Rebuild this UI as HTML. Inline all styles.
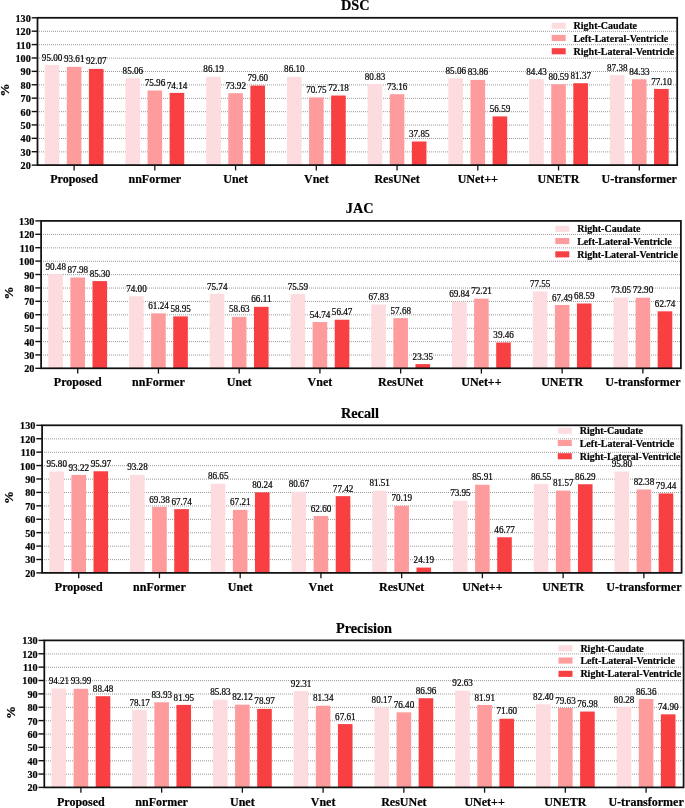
<!DOCTYPE html>
<html><head><meta charset="utf-8"><title>Segmentation metrics</title>
<style>
html,body{margin:0;padding:0;background:#fff;}
body{width:685px;height:808px;overflow:hidden;}
svg{display:block;}
text{font-family:"Liberation Serif",serif;stroke:#000;stroke-linejoin:round;}
text.b{font-weight:bold;}
</style></head>
<body>
<svg width="685" height="808" viewBox="0 0 685 808">
<defs>
<filter id="gs" x="-0.02" y="-0.02" width="1.04" height="1.04"><feOffset dx="0" dy="0"/></filter>

</defs>
<rect width="685" height="808" fill="#fff"/>
<line x1="39" y1="31.34" x2="676.20" y2="31.34" stroke="#999999" stroke-width="1" stroke-dasharray="1 1"/>
<line x1="39" y1="44.73" x2="676.20" y2="44.73" stroke="#999999" stroke-width="1" stroke-dasharray="1 1"/>
<line x1="39" y1="58.12" x2="676.20" y2="58.12" stroke="#999999" stroke-width="1" stroke-dasharray="1 1"/>
<line x1="39" y1="71.51" x2="676.20" y2="71.51" stroke="#999999" stroke-width="1" stroke-dasharray="1 1"/>
<line x1="39" y1="84.90" x2="676.20" y2="84.90" stroke="#999999" stroke-width="1" stroke-dasharray="1 1"/>
<line x1="39" y1="98.30" x2="676.20" y2="98.30" stroke="#999999" stroke-width="1" stroke-dasharray="1 1"/>
<line x1="39" y1="111.69" x2="676.20" y2="111.69" stroke="#999999" stroke-width="1" stroke-dasharray="1 1"/>
<line x1="39" y1="125.08" x2="676.20" y2="125.08" stroke="#999999" stroke-width="1" stroke-dasharray="1 1"/>
<line x1="39" y1="138.47" x2="676.20" y2="138.47" stroke="#999999" stroke-width="1" stroke-dasharray="1 1"/>
<line x1="39" y1="151.86" x2="676.20" y2="151.86" stroke="#999999" stroke-width="1" stroke-dasharray="1 1"/>
<rect x="44.70" y="64.97" width="14.6" height="100.13" fill="#fddcdf"/>
<rect x="66.80" y="66.83" width="14.6" height="98.27" fill="#fe9c9d"/>
<rect x="88.90" y="68.89" width="14.6" height="96.21" fill="#f83f42"/>
<line x1="74.10" y1="165.10" x2="74.10" y2="170.40" stroke="#111" stroke-width="1.3"/>
<rect x="125.44" y="78.28" width="14.6" height="86.82" fill="#fddcdf"/>
<rect x="147.54" y="90.46" width="14.6" height="74.64" fill="#fe9c9d"/>
<rect x="169.64" y="92.90" width="14.6" height="72.20" fill="#f83f42"/>
<line x1="154.84" y1="165.10" x2="154.84" y2="170.40" stroke="#111" stroke-width="1.3"/>
<rect x="206.18" y="76.77" width="14.6" height="88.33" fill="#fddcdf"/>
<rect x="228.28" y="93.20" width="14.6" height="71.90" fill="#fe9c9d"/>
<rect x="250.38" y="85.59" width="14.6" height="79.51" fill="#f83f42"/>
<line x1="235.58" y1="165.10" x2="235.58" y2="170.40" stroke="#111" stroke-width="1.3"/>
<rect x="286.92" y="76.89" width="14.6" height="88.21" fill="#fddcdf"/>
<rect x="309.02" y="97.44" width="14.6" height="67.66" fill="#fe9c9d"/>
<rect x="331.12" y="95.53" width="14.6" height="69.57" fill="#f83f42"/>
<line x1="316.32" y1="165.10" x2="316.32" y2="170.40" stroke="#111" stroke-width="1.3"/>
<rect x="367.66" y="83.94" width="14.6" height="81.16" fill="#fddcdf"/>
<rect x="389.76" y="94.21" width="14.6" height="70.89" fill="#fe9c9d"/>
<rect x="411.86" y="141.50" width="14.6" height="23.60" fill="#f83f42"/>
<line x1="397.06" y1="165.10" x2="397.06" y2="170.40" stroke="#111" stroke-width="1.3"/>
<rect x="448.40" y="78.28" width="14.6" height="86.82" fill="#fddcdf"/>
<rect x="470.50" y="79.89" width="14.6" height="85.21" fill="#fe9c9d"/>
<rect x="492.60" y="116.40" width="14.6" height="48.70" fill="#f83f42"/>
<line x1="477.80" y1="165.10" x2="477.80" y2="170.40" stroke="#111" stroke-width="1.3"/>
<rect x="529.14" y="79.12" width="14.6" height="85.98" fill="#fddcdf"/>
<rect x="551.24" y="84.26" width="14.6" height="80.84" fill="#fe9c9d"/>
<rect x="573.34" y="83.22" width="14.6" height="81.88" fill="#f83f42"/>
<line x1="558.54" y1="165.10" x2="558.54" y2="170.40" stroke="#111" stroke-width="1.3"/>
<rect x="609.88" y="75.17" width="14.6" height="89.93" fill="#fddcdf"/>
<rect x="631.98" y="79.26" width="14.6" height="85.84" fill="#fe9c9d"/>
<rect x="654.08" y="88.94" width="14.6" height="76.16" fill="#f83f42"/>
<line x1="639.28" y1="165.10" x2="639.28" y2="170.40" stroke="#111" stroke-width="1.3"/>
<rect x="37.50" y="17.80" width="639.7" height="147.3" fill="none" stroke="#111" stroke-width="1.75"/>
<line x1="31.70" y1="17.80" x2="37.50" y2="17.80" stroke="#111" stroke-width="1.4"/>
<line x1="31.70" y1="31.19" x2="37.50" y2="31.19" stroke="#111" stroke-width="1.4"/>
<line x1="31.70" y1="44.58" x2="37.50" y2="44.58" stroke="#111" stroke-width="1.4"/>
<line x1="31.70" y1="57.97" x2="37.50" y2="57.97" stroke="#111" stroke-width="1.4"/>
<line x1="31.70" y1="71.36" x2="37.50" y2="71.36" stroke="#111" stroke-width="1.4"/>
<line x1="31.70" y1="84.75" x2="37.50" y2="84.75" stroke="#111" stroke-width="1.4"/>
<line x1="31.70" y1="98.15" x2="37.50" y2="98.15" stroke="#111" stroke-width="1.4"/>
<line x1="31.70" y1="111.54" x2="37.50" y2="111.54" stroke="#111" stroke-width="1.4"/>
<line x1="31.70" y1="124.93" x2="37.50" y2="124.93" stroke="#111" stroke-width="1.4"/>
<line x1="31.70" y1="138.32" x2="37.50" y2="138.32" stroke="#111" stroke-width="1.4"/>
<line x1="31.70" y1="151.71" x2="37.50" y2="151.71" stroke="#111" stroke-width="1.4"/>
<line x1="31.70" y1="165.10" x2="37.50" y2="165.10" stroke="#111" stroke-width="1.4"/>
<rect x="551.70" y="22.70" width="14.0" height="6.1" fill="#fddcdf"/>
<rect x="551.70" y="34.90" width="14.0" height="6.1" fill="#fe9c9d"/>
<rect x="551.70" y="48.20" width="14.0" height="6.1" fill="#f83f42"/>
<line x1="43" y1="234.45" x2="679.90" y2="234.45" stroke="#999999" stroke-width="1" stroke-dasharray="1 1"/>
<line x1="43" y1="247.85" x2="679.90" y2="247.85" stroke="#999999" stroke-width="1" stroke-dasharray="1 1"/>
<line x1="43" y1="261.25" x2="679.90" y2="261.25" stroke="#999999" stroke-width="1" stroke-dasharray="1 1"/>
<line x1="43" y1="274.65" x2="679.90" y2="274.65" stroke="#999999" stroke-width="1" stroke-dasharray="1 1"/>
<line x1="43" y1="288.05" x2="679.90" y2="288.05" stroke="#999999" stroke-width="1" stroke-dasharray="1 1"/>
<line x1="43" y1="301.45" x2="679.90" y2="301.45" stroke="#999999" stroke-width="1" stroke-dasharray="1 1"/>
<line x1="43" y1="314.85" x2="679.90" y2="314.85" stroke="#999999" stroke-width="1" stroke-dasharray="1 1"/>
<line x1="43" y1="328.25" x2="679.90" y2="328.25" stroke="#999999" stroke-width="1" stroke-dasharray="1 1"/>
<line x1="43" y1="341.65" x2="679.90" y2="341.65" stroke="#999999" stroke-width="1" stroke-dasharray="1 1"/>
<line x1="43" y1="355.05" x2="679.90" y2="355.05" stroke="#999999" stroke-width="1" stroke-dasharray="1 1"/>
<rect x="48.30" y="274.16" width="14.6" height="94.14" fill="#fddcdf"/>
<rect x="70.40" y="277.51" width="14.6" height="90.79" fill="#fe9c9d"/>
<rect x="92.50" y="281.10" width="14.6" height="87.20" fill="#f83f42"/>
<line x1="77.70" y1="368.30" x2="77.70" y2="373.60" stroke="#111" stroke-width="1.3"/>
<rect x="129.04" y="296.24" width="14.6" height="72.06" fill="#fddcdf"/>
<rect x="151.14" y="313.34" width="14.6" height="54.96" fill="#fe9c9d"/>
<rect x="173.24" y="316.41" width="14.6" height="51.89" fill="#f83f42"/>
<line x1="158.44" y1="368.30" x2="158.44" y2="373.60" stroke="#111" stroke-width="1.3"/>
<rect x="209.78" y="293.91" width="14.6" height="74.39" fill="#fddcdf"/>
<rect x="231.88" y="316.84" width="14.6" height="51.46" fill="#fe9c9d"/>
<rect x="253.98" y="306.81" width="14.6" height="61.49" fill="#f83f42"/>
<line x1="239.18" y1="368.30" x2="239.18" y2="373.60" stroke="#111" stroke-width="1.3"/>
<rect x="290.52" y="294.11" width="14.6" height="74.19" fill="#fddcdf"/>
<rect x="312.62" y="322.05" width="14.6" height="46.25" fill="#fe9c9d"/>
<rect x="334.72" y="319.73" width="14.6" height="48.57" fill="#f83f42"/>
<line x1="319.92" y1="368.30" x2="319.92" y2="373.60" stroke="#111" stroke-width="1.3"/>
<rect x="371.26" y="304.51" width="14.6" height="63.79" fill="#fddcdf"/>
<rect x="393.36" y="318.11" width="14.6" height="50.19" fill="#fe9c9d"/>
<rect x="415.46" y="364.11" width="14.6" height="4.19" fill="#f83f42"/>
<line x1="400.66" y1="368.30" x2="400.66" y2="373.60" stroke="#111" stroke-width="1.3"/>
<rect x="452.00" y="301.81" width="14.6" height="66.49" fill="#fddcdf"/>
<rect x="474.10" y="298.64" width="14.6" height="69.66" fill="#fe9c9d"/>
<rect x="496.20" y="342.52" width="14.6" height="25.78" fill="#f83f42"/>
<line x1="481.40" y1="368.30" x2="481.40" y2="373.60" stroke="#111" stroke-width="1.3"/>
<rect x="532.74" y="291.48" width="14.6" height="76.82" fill="#fddcdf"/>
<rect x="554.84" y="304.96" width="14.6" height="63.34" fill="#fe9c9d"/>
<rect x="576.94" y="303.49" width="14.6" height="64.81" fill="#f83f42"/>
<line x1="562.14" y1="368.30" x2="562.14" y2="373.60" stroke="#111" stroke-width="1.3"/>
<rect x="613.48" y="297.51" width="14.6" height="70.79" fill="#fddcdf"/>
<rect x="635.58" y="297.71" width="14.6" height="70.59" fill="#fe9c9d"/>
<rect x="657.68" y="311.33" width="14.6" height="56.97" fill="#f83f42"/>
<line x1="642.88" y1="368.30" x2="642.88" y2="373.60" stroke="#111" stroke-width="1.3"/>
<rect x="41.10" y="220.90" width="639.8" height="147.4" fill="none" stroke="#111" stroke-width="1.75"/>
<line x1="35.30" y1="220.90" x2="41.10" y2="220.90" stroke="#111" stroke-width="1.4"/>
<line x1="35.30" y1="234.30" x2="41.10" y2="234.30" stroke="#111" stroke-width="1.4"/>
<line x1="35.30" y1="247.70" x2="41.10" y2="247.70" stroke="#111" stroke-width="1.4"/>
<line x1="35.30" y1="261.10" x2="41.10" y2="261.10" stroke="#111" stroke-width="1.4"/>
<line x1="35.30" y1="274.50" x2="41.10" y2="274.50" stroke="#111" stroke-width="1.4"/>
<line x1="35.30" y1="287.90" x2="41.10" y2="287.90" stroke="#111" stroke-width="1.4"/>
<line x1="35.30" y1="301.30" x2="41.10" y2="301.30" stroke="#111" stroke-width="1.4"/>
<line x1="35.30" y1="314.70" x2="41.10" y2="314.70" stroke="#111" stroke-width="1.4"/>
<line x1="35.30" y1="328.10" x2="41.10" y2="328.10" stroke="#111" stroke-width="1.4"/>
<line x1="35.30" y1="341.50" x2="41.10" y2="341.50" stroke="#111" stroke-width="1.4"/>
<line x1="35.30" y1="354.90" x2="41.10" y2="354.90" stroke="#111" stroke-width="1.4"/>
<line x1="35.30" y1="368.30" x2="41.10" y2="368.30" stroke="#111" stroke-width="1.4"/>
<rect x="555.30" y="225.80" width="14.0" height="6.1" fill="#fddcdf"/>
<rect x="555.30" y="238.00" width="14.0" height="6.1" fill="#fe9c9d"/>
<rect x="555.30" y="251.30" width="14.0" height="6.1" fill="#f83f42"/>
<line x1="44" y1="438.87" x2="680.60" y2="438.87" stroke="#999999" stroke-width="1" stroke-dasharray="1 1"/>
<line x1="44" y1="452.29" x2="680.60" y2="452.29" stroke="#999999" stroke-width="1" stroke-dasharray="1 1"/>
<line x1="44" y1="465.70" x2="680.60" y2="465.70" stroke="#999999" stroke-width="1" stroke-dasharray="1 1"/>
<line x1="44" y1="479.12" x2="680.60" y2="479.12" stroke="#999999" stroke-width="1" stroke-dasharray="1 1"/>
<line x1="44" y1="492.54" x2="680.60" y2="492.54" stroke="#999999" stroke-width="1" stroke-dasharray="1 1"/>
<line x1="44" y1="505.96" x2="680.60" y2="505.96" stroke="#999999" stroke-width="1" stroke-dasharray="1 1"/>
<line x1="44" y1="519.38" x2="680.60" y2="519.38" stroke="#999999" stroke-width="1" stroke-dasharray="1 1"/>
<line x1="44" y1="532.80" x2="680.60" y2="532.80" stroke="#999999" stroke-width="1" stroke-dasharray="1 1"/>
<line x1="44" y1="546.21" x2="680.60" y2="546.21" stroke="#999999" stroke-width="1" stroke-dasharray="1 1"/>
<line x1="44" y1="559.63" x2="680.60" y2="559.63" stroke="#999999" stroke-width="1" stroke-dasharray="1 1"/>
<rect x="49.30" y="471.49" width="14.6" height="101.41" fill="#fddcdf"/>
<rect x="71.40" y="474.95" width="14.6" height="97.95" fill="#fe9c9d"/>
<rect x="93.50" y="471.26" width="14.6" height="101.64" fill="#f83f42"/>
<line x1="78.70" y1="572.90" x2="78.70" y2="578.20" stroke="#111" stroke-width="1.3"/>
<rect x="130.04" y="474.87" width="14.6" height="98.03" fill="#fddcdf"/>
<rect x="152.14" y="506.94" width="14.6" height="65.96" fill="#fe9c9d"/>
<rect x="174.24" y="509.14" width="14.6" height="63.76" fill="#f83f42"/>
<line x1="159.44" y1="572.90" x2="159.44" y2="578.20" stroke="#111" stroke-width="1.3"/>
<rect x="210.78" y="483.77" width="14.6" height="89.13" fill="#fddcdf"/>
<rect x="232.88" y="509.85" width="14.6" height="63.05" fill="#fe9c9d"/>
<rect x="254.98" y="492.37" width="14.6" height="80.53" fill="#f83f42"/>
<line x1="240.18" y1="572.90" x2="240.18" y2="578.20" stroke="#111" stroke-width="1.3"/>
<rect x="291.52" y="491.79" width="14.6" height="81.11" fill="#fddcdf"/>
<rect x="313.62" y="516.04" width="14.6" height="56.86" fill="#fe9c9d"/>
<rect x="335.72" y="496.15" width="14.6" height="76.75" fill="#f83f42"/>
<line x1="320.92" y1="572.90" x2="320.92" y2="578.20" stroke="#111" stroke-width="1.3"/>
<rect x="372.26" y="490.66" width="14.6" height="82.24" fill="#fddcdf"/>
<rect x="394.36" y="505.85" width="14.6" height="67.05" fill="#fe9c9d"/>
<rect x="416.46" y="567.58" width="14.6" height="5.32" fill="#f83f42"/>
<line x1="401.66" y1="572.90" x2="401.66" y2="578.20" stroke="#111" stroke-width="1.3"/>
<rect x="453.00" y="500.81" width="14.6" height="72.09" fill="#fddcdf"/>
<rect x="475.10" y="484.76" width="14.6" height="88.14" fill="#fe9c9d"/>
<rect x="497.20" y="537.28" width="14.6" height="35.62" fill="#f83f42"/>
<line x1="482.40" y1="572.90" x2="482.40" y2="578.20" stroke="#111" stroke-width="1.3"/>
<rect x="533.74" y="483.90" width="14.6" height="89.00" fill="#fddcdf"/>
<rect x="555.84" y="490.58" width="14.6" height="82.32" fill="#fe9c9d"/>
<rect x="577.94" y="484.25" width="14.6" height="88.65" fill="#f83f42"/>
<line x1="563.14" y1="572.90" x2="563.14" y2="578.20" stroke="#111" stroke-width="1.3"/>
<rect x="614.48" y="471.49" width="14.6" height="101.41" fill="#fddcdf"/>
<rect x="636.58" y="489.50" width="14.6" height="83.40" fill="#fe9c9d"/>
<rect x="658.68" y="493.44" width="14.6" height="79.46" fill="#f83f42"/>
<line x1="643.88" y1="572.90" x2="643.88" y2="578.20" stroke="#111" stroke-width="1.3"/>
<rect x="42.10" y="425.30" width="639.5" height="147.6" fill="none" stroke="#111" stroke-width="1.75"/>
<line x1="36.30" y1="425.30" x2="42.10" y2="425.30" stroke="#111" stroke-width="1.4"/>
<line x1="36.30" y1="438.72" x2="42.10" y2="438.72" stroke="#111" stroke-width="1.4"/>
<line x1="36.30" y1="452.14" x2="42.10" y2="452.14" stroke="#111" stroke-width="1.4"/>
<line x1="36.30" y1="465.55" x2="42.10" y2="465.55" stroke="#111" stroke-width="1.4"/>
<line x1="36.30" y1="478.97" x2="42.10" y2="478.97" stroke="#111" stroke-width="1.4"/>
<line x1="36.30" y1="492.39" x2="42.10" y2="492.39" stroke="#111" stroke-width="1.4"/>
<line x1="36.30" y1="505.81" x2="42.10" y2="505.81" stroke="#111" stroke-width="1.4"/>
<line x1="36.30" y1="519.23" x2="42.10" y2="519.23" stroke="#111" stroke-width="1.4"/>
<line x1="36.30" y1="532.65" x2="42.10" y2="532.65" stroke="#111" stroke-width="1.4"/>
<line x1="36.30" y1="546.06" x2="42.10" y2="546.06" stroke="#111" stroke-width="1.4"/>
<line x1="36.30" y1="559.48" x2="42.10" y2="559.48" stroke="#111" stroke-width="1.4"/>
<line x1="36.30" y1="572.90" x2="42.10" y2="572.90" stroke="#111" stroke-width="1.4"/>
<rect x="557.80" y="427.70" width="14.0" height="6.1" fill="#fddcdf"/>
<rect x="557.80" y="439.90" width="14.0" height="6.1" fill="#fe9c9d"/>
<rect x="557.80" y="453.20" width="14.0" height="6.1" fill="#f83f42"/>
<line x1="46" y1="653.91" x2="682.60" y2="653.91" stroke="#999999" stroke-width="1" stroke-dasharray="1 1"/>
<line x1="46" y1="667.28" x2="682.60" y2="667.28" stroke="#999999" stroke-width="1" stroke-dasharray="1 1"/>
<line x1="46" y1="680.64" x2="682.60" y2="680.64" stroke="#999999" stroke-width="1" stroke-dasharray="1 1"/>
<line x1="46" y1="694.00" x2="682.60" y2="694.00" stroke="#999999" stroke-width="1" stroke-dasharray="1 1"/>
<line x1="46" y1="707.37" x2="682.60" y2="707.37" stroke="#999999" stroke-width="1" stroke-dasharray="1 1"/>
<line x1="46" y1="720.73" x2="682.60" y2="720.73" stroke="#999999" stroke-width="1" stroke-dasharray="1 1"/>
<line x1="46" y1="734.10" x2="682.60" y2="734.10" stroke="#999999" stroke-width="1" stroke-dasharray="1 1"/>
<line x1="46" y1="747.46" x2="682.60" y2="747.46" stroke="#999999" stroke-width="1" stroke-dasharray="1 1"/>
<line x1="46" y1="760.82" x2="682.60" y2="760.82" stroke="#999999" stroke-width="1" stroke-dasharray="1 1"/>
<line x1="46" y1="774.19" x2="682.60" y2="774.19" stroke="#999999" stroke-width="1" stroke-dasharray="1 1"/>
<rect x="51.50" y="688.53" width="14.6" height="98.87" fill="#fddcdf"/>
<rect x="73.60" y="688.82" width="14.6" height="98.58" fill="#fe9c9d"/>
<rect x="95.70" y="696.19" width="14.6" height="91.21" fill="#f83f42"/>
<line x1="80.90" y1="787.40" x2="80.90" y2="792.70" stroke="#111" stroke-width="1.3"/>
<rect x="132.24" y="709.96" width="14.6" height="77.44" fill="#fddcdf"/>
<rect x="154.34" y="702.27" width="14.6" height="85.13" fill="#fe9c9d"/>
<rect x="176.44" y="704.91" width="14.6" height="82.49" fill="#f83f42"/>
<line x1="161.64" y1="787.40" x2="161.64" y2="792.70" stroke="#111" stroke-width="1.3"/>
<rect x="212.98" y="699.73" width="14.6" height="87.67" fill="#fddcdf"/>
<rect x="235.08" y="704.69" width="14.6" height="82.71" fill="#fe9c9d"/>
<rect x="257.18" y="708.89" width="14.6" height="78.51" fill="#f83f42"/>
<line x1="242.38" y1="787.40" x2="242.38" y2="792.70" stroke="#111" stroke-width="1.3"/>
<rect x="293.72" y="691.07" width="14.6" height="96.33" fill="#fddcdf"/>
<rect x="315.82" y="705.73" width="14.6" height="81.67" fill="#fe9c9d"/>
<rect x="337.92" y="724.08" width="14.6" height="63.32" fill="#f83f42"/>
<line x1="323.12" y1="787.40" x2="323.12" y2="792.70" stroke="#111" stroke-width="1.3"/>
<rect x="374.46" y="707.29" width="14.6" height="80.11" fill="#fddcdf"/>
<rect x="396.56" y="712.33" width="14.6" height="75.07" fill="#fe9c9d"/>
<rect x="418.66" y="698.22" width="14.6" height="89.18" fill="#f83f42"/>
<line x1="403.86" y1="787.40" x2="403.86" y2="792.70" stroke="#111" stroke-width="1.3"/>
<rect x="455.20" y="690.64" width="14.6" height="96.76" fill="#fddcdf"/>
<rect x="477.30" y="704.97" width="14.6" height="82.43" fill="#fe9c9d"/>
<rect x="499.40" y="718.74" width="14.6" height="68.66" fill="#f83f42"/>
<line x1="484.60" y1="787.40" x2="484.60" y2="792.70" stroke="#111" stroke-width="1.3"/>
<rect x="535.94" y="704.31" width="14.6" height="83.09" fill="#fddcdf"/>
<rect x="558.04" y="708.01" width="14.6" height="79.39" fill="#fe9c9d"/>
<rect x="580.14" y="711.55" width="14.6" height="75.85" fill="#f83f42"/>
<line x1="565.34" y1="787.40" x2="565.34" y2="792.70" stroke="#111" stroke-width="1.3"/>
<rect x="616.68" y="707.14" width="14.6" height="80.26" fill="#fddcdf"/>
<rect x="638.78" y="699.02" width="14.6" height="88.38" fill="#fe9c9d"/>
<rect x="660.88" y="714.33" width="14.6" height="73.07" fill="#f83f42"/>
<line x1="646.08" y1="787.40" x2="646.08" y2="792.70" stroke="#111" stroke-width="1.3"/>
<rect x="44.30" y="640.40" width="639.3" height="147.0" fill="none" stroke="#111" stroke-width="1.75"/>
<line x1="38.50" y1="640.40" x2="44.30" y2="640.40" stroke="#111" stroke-width="1.4"/>
<line x1="38.50" y1="653.76" x2="44.30" y2="653.76" stroke="#111" stroke-width="1.4"/>
<line x1="38.50" y1="667.13" x2="44.30" y2="667.13" stroke="#111" stroke-width="1.4"/>
<line x1="38.50" y1="680.49" x2="44.30" y2="680.49" stroke="#111" stroke-width="1.4"/>
<line x1="38.50" y1="693.85" x2="44.30" y2="693.85" stroke="#111" stroke-width="1.4"/>
<line x1="38.50" y1="707.22" x2="44.30" y2="707.22" stroke="#111" stroke-width="1.4"/>
<line x1="38.50" y1="720.58" x2="44.30" y2="720.58" stroke="#111" stroke-width="1.4"/>
<line x1="38.50" y1="733.95" x2="44.30" y2="733.95" stroke="#111" stroke-width="1.4"/>
<line x1="38.50" y1="747.31" x2="44.30" y2="747.31" stroke="#111" stroke-width="1.4"/>
<line x1="38.50" y1="760.67" x2="44.30" y2="760.67" stroke="#111" stroke-width="1.4"/>
<line x1="38.50" y1="774.04" x2="44.30" y2="774.04" stroke="#111" stroke-width="1.4"/>
<line x1="38.50" y1="787.40" x2="44.30" y2="787.40" stroke="#111" stroke-width="1.4"/>
<rect x="558.50" y="645.30" width="14.0" height="6.1" fill="#fddcdf"/>
<rect x="558.50" y="657.50" width="14.0" height="6.1" fill="#fe9c9d"/>
<rect x="558.50" y="670.80" width="14.0" height="6.1" fill="#f83f42"/>
<g fill="#000" filter="url(#gs)">
<text class="r" transform="translate(52.10,60.57) scale(0.94,1)" font-size="9.7" text-anchor="middle" stroke-width="0.22">95.00</text>
<text class="r" transform="translate(74.20,62.43) scale(0.94,1)" font-size="9.7" text-anchor="middle" stroke-width="0.22">93.61</text>
<text class="r" transform="translate(96.30,64.49) scale(0.94,1)" font-size="9.7" text-anchor="middle" stroke-width="0.22">92.07</text>
<text class="b" x="74.10" y="183.30" font-size="12" text-anchor="middle" stroke-width="0.2">Proposed</text>
<text class="r" transform="translate(132.84,73.88) scale(0.94,1)" font-size="9.7" text-anchor="middle" stroke-width="0.22">85.06</text>
<text class="r" transform="translate(154.94,86.06) scale(0.94,1)" font-size="9.7" text-anchor="middle" stroke-width="0.22">75.96</text>
<text class="r" transform="translate(177.04,88.50) scale(0.94,1)" font-size="9.7" text-anchor="middle" stroke-width="0.22">74.14</text>
<text class="b" x="154.84" y="183.30" font-size="12" text-anchor="middle" stroke-width="0.2">nnFormer</text>
<text class="r" transform="translate(213.58,72.37) scale(0.94,1)" font-size="9.7" text-anchor="middle" stroke-width="0.22">86.19</text>
<text class="r" transform="translate(235.68,88.80) scale(0.94,1)" font-size="9.7" text-anchor="middle" stroke-width="0.22">73.92</text>
<text class="r" transform="translate(257.78,81.19) scale(0.94,1)" font-size="9.7" text-anchor="middle" stroke-width="0.22">79.60</text>
<text class="b" x="235.58" y="183.30" font-size="12" text-anchor="middle" stroke-width="0.2">Unet</text>
<text class="r" transform="translate(294.32,72.49) scale(0.94,1)" font-size="9.7" text-anchor="middle" stroke-width="0.22">86.10</text>
<text class="r" transform="translate(316.42,93.04) scale(0.94,1)" font-size="9.7" text-anchor="middle" stroke-width="0.22">70.75</text>
<text class="r" transform="translate(338.52,91.13) scale(0.94,1)" font-size="9.7" text-anchor="middle" stroke-width="0.22">72.18</text>
<text class="b" x="316.32" y="183.30" font-size="12" text-anchor="middle" stroke-width="0.2">Vnet</text>
<text class="r" transform="translate(375.06,79.54) scale(0.94,1)" font-size="9.7" text-anchor="middle" stroke-width="0.22">80.83</text>
<text class="r" transform="translate(397.16,89.81) scale(0.94,1)" font-size="9.7" text-anchor="middle" stroke-width="0.22">73.16</text>
<text class="r" transform="translate(419.26,137.10) scale(0.94,1)" font-size="9.7" text-anchor="middle" stroke-width="0.22">37.85</text>
<text class="b" x="397.06" y="183.30" font-size="12" text-anchor="middle" stroke-width="0.2">ResUNet</text>
<text class="r" transform="translate(455.80,73.88) scale(0.94,1)" font-size="9.7" text-anchor="middle" stroke-width="0.22">85.06</text>
<text class="r" transform="translate(477.90,75.49) scale(0.94,1)" font-size="9.7" text-anchor="middle" stroke-width="0.22">83.86</text>
<text class="r" transform="translate(500.00,112.00) scale(0.94,1)" font-size="9.7" text-anchor="middle" stroke-width="0.22">56.59</text>
<text class="b" x="477.80" y="183.30" font-size="12" text-anchor="middle" stroke-width="0.2">UNet++</text>
<text class="r" transform="translate(536.54,74.72) scale(0.94,1)" font-size="9.7" text-anchor="middle" stroke-width="0.22">84.43</text>
<text class="r" transform="translate(558.64,79.86) scale(0.94,1)" font-size="9.7" text-anchor="middle" stroke-width="0.22">80.59</text>
<text class="r" transform="translate(580.74,78.82) scale(0.94,1)" font-size="9.7" text-anchor="middle" stroke-width="0.22">81.37</text>
<text class="b" x="558.54" y="183.30" font-size="12" text-anchor="middle" stroke-width="0.2">UNETR</text>
<text class="r" transform="translate(617.28,70.77) scale(0.94,1)" font-size="9.7" text-anchor="middle" stroke-width="0.22">87.38</text>
<text class="r" transform="translate(639.38,74.86) scale(0.94,1)" font-size="9.7" text-anchor="middle" stroke-width="0.22">84.33</text>
<text class="r" transform="translate(661.48,84.54) scale(0.94,1)" font-size="9.7" text-anchor="middle" stroke-width="0.22">77.10</text>
<text class="b" x="639.28" y="183.30" font-size="12" text-anchor="middle" stroke-width="0.2">U-transformer</text>
<text class="b" x="30.80" y="21.80" font-size="10.2" text-anchor="end" stroke-width="0.2">130</text>
<text class="b" x="30.80" y="35.19" font-size="10.2" text-anchor="end" stroke-width="0.2">120</text>
<text class="b" x="30.80" y="48.58" font-size="10.2" text-anchor="end" stroke-width="0.2">110</text>
<text class="b" x="30.80" y="61.97" font-size="10.2" text-anchor="end" stroke-width="0.2">100</text>
<text class="b" x="30.80" y="75.36" font-size="10.2" text-anchor="end" stroke-width="0.2">90</text>
<text class="b" x="30.80" y="88.75" font-size="10.2" text-anchor="end" stroke-width="0.2">80</text>
<text class="b" x="30.80" y="102.15" font-size="10.2" text-anchor="end" stroke-width="0.2">70</text>
<text class="b" x="30.80" y="115.54" font-size="10.2" text-anchor="end" stroke-width="0.2">60</text>
<text class="b" x="30.80" y="128.93" font-size="10.2" text-anchor="end" stroke-width="0.2">50</text>
<text class="b" x="30.80" y="142.32" font-size="10.2" text-anchor="end" stroke-width="0.2">40</text>
<text class="b" x="30.80" y="155.71" font-size="10.2" text-anchor="end" stroke-width="0.2">30</text>
<text class="b" x="30.80" y="169.10" font-size="10.2" text-anchor="end" stroke-width="0.2">20</text>
<text class="b" x="355.20" y="9.80" font-size="14.3" text-anchor="middle" stroke-width="0.2">DSC</text>
<g transform="translate(4.40,90.00) rotate(-90)"><text class="b" x="0.00" y="4.50" font-size="13" text-anchor="middle" stroke-width="0.2">%</text></g>
<text class="b" x="573.60" y="29.20" font-size="10" stroke-width="0.2">Right-Caudate</text>
<text class="b" x="573.60" y="41.60" font-size="10" stroke-width="0.2">Left-Lateral-Ventricle</text>
<text class="b" x="573.60" y="54.60" font-size="10" stroke-width="0.2">Right-Lateral-Ventricle</text>
<text class="r" transform="translate(55.70,269.76) scale(0.94,1)" font-size="9.7" text-anchor="middle" stroke-width="0.22">90.48</text>
<text class="r" transform="translate(77.80,273.11) scale(0.94,1)" font-size="9.7" text-anchor="middle" stroke-width="0.22">87.98</text>
<text class="r" transform="translate(99.90,276.70) scale(0.94,1)" font-size="9.7" text-anchor="middle" stroke-width="0.22">85.30</text>
<text class="b" x="77.70" y="386.40" font-size="12" text-anchor="middle" stroke-width="0.2">Proposed</text>
<text class="r" transform="translate(136.44,291.84) scale(0.94,1)" font-size="9.7" text-anchor="middle" stroke-width="0.22">74.00</text>
<text class="r" transform="translate(158.54,308.94) scale(0.94,1)" font-size="9.7" text-anchor="middle" stroke-width="0.22">61.24</text>
<text class="r" transform="translate(180.64,312.01) scale(0.94,1)" font-size="9.7" text-anchor="middle" stroke-width="0.22">58.95</text>
<text class="b" x="158.44" y="386.40" font-size="12" text-anchor="middle" stroke-width="0.2">nnFormer</text>
<text class="r" transform="translate(217.18,289.51) scale(0.94,1)" font-size="9.7" text-anchor="middle" stroke-width="0.22">75.74</text>
<text class="r" transform="translate(239.28,312.44) scale(0.94,1)" font-size="9.7" text-anchor="middle" stroke-width="0.22">58.63</text>
<text class="r" transform="translate(261.38,302.41) scale(0.94,1)" font-size="9.7" text-anchor="middle" stroke-width="0.22">66.11</text>
<text class="b" x="239.18" y="386.40" font-size="12" text-anchor="middle" stroke-width="0.2">Unet</text>
<text class="r" transform="translate(297.92,289.71) scale(0.94,1)" font-size="9.7" text-anchor="middle" stroke-width="0.22">75.59</text>
<text class="r" transform="translate(320.02,317.65) scale(0.94,1)" font-size="9.7" text-anchor="middle" stroke-width="0.22">54.74</text>
<text class="r" transform="translate(342.12,315.33) scale(0.94,1)" font-size="9.7" text-anchor="middle" stroke-width="0.22">56.47</text>
<text class="b" x="319.92" y="386.40" font-size="12" text-anchor="middle" stroke-width="0.2">Vnet</text>
<text class="r" transform="translate(378.66,300.11) scale(0.94,1)" font-size="9.7" text-anchor="middle" stroke-width="0.22">67.83</text>
<text class="r" transform="translate(400.76,313.71) scale(0.94,1)" font-size="9.7" text-anchor="middle" stroke-width="0.22">57.68</text>
<text class="r" transform="translate(422.86,359.71) scale(0.94,1)" font-size="9.7" text-anchor="middle" stroke-width="0.22">23.35</text>
<text class="b" x="400.66" y="386.40" font-size="12" text-anchor="middle" stroke-width="0.2">ResUNet</text>
<text class="r" transform="translate(459.40,297.41) scale(0.94,1)" font-size="9.7" text-anchor="middle" stroke-width="0.22">69.84</text>
<text class="r" transform="translate(481.50,294.24) scale(0.94,1)" font-size="9.7" text-anchor="middle" stroke-width="0.22">72.21</text>
<text class="r" transform="translate(503.60,338.12) scale(0.94,1)" font-size="9.7" text-anchor="middle" stroke-width="0.22">39.46</text>
<text class="b" x="481.40" y="386.40" font-size="12" text-anchor="middle" stroke-width="0.2">UNet++</text>
<text class="r" transform="translate(540.14,287.08) scale(0.94,1)" font-size="9.7" text-anchor="middle" stroke-width="0.22">77.55</text>
<text class="r" transform="translate(562.24,300.56) scale(0.94,1)" font-size="9.7" text-anchor="middle" stroke-width="0.22">67.49</text>
<text class="r" transform="translate(584.34,299.09) scale(0.94,1)" font-size="9.7" text-anchor="middle" stroke-width="0.22">68.59</text>
<text class="b" x="562.14" y="386.40" font-size="12" text-anchor="middle" stroke-width="0.2">UNETR</text>
<text class="r" transform="translate(620.88,293.11) scale(0.94,1)" font-size="9.7" text-anchor="middle" stroke-width="0.22">73.05</text>
<text class="r" transform="translate(642.98,293.31) scale(0.94,1)" font-size="9.7" text-anchor="middle" stroke-width="0.22">72.90</text>
<text class="r" transform="translate(665.08,306.93) scale(0.94,1)" font-size="9.7" text-anchor="middle" stroke-width="0.22">62.74</text>
<text class="b" x="642.88" y="386.40" font-size="12" text-anchor="middle" stroke-width="0.2">U-transformer</text>
<text class="b" x="34.40" y="224.90" font-size="10.2" text-anchor="end" stroke-width="0.2">130</text>
<text class="b" x="34.40" y="238.30" font-size="10.2" text-anchor="end" stroke-width="0.2">120</text>
<text class="b" x="34.40" y="251.70" font-size="10.2" text-anchor="end" stroke-width="0.2">110</text>
<text class="b" x="34.40" y="265.10" font-size="10.2" text-anchor="end" stroke-width="0.2">100</text>
<text class="b" x="34.40" y="278.50" font-size="10.2" text-anchor="end" stroke-width="0.2">90</text>
<text class="b" x="34.40" y="291.90" font-size="10.2" text-anchor="end" stroke-width="0.2">80</text>
<text class="b" x="34.40" y="305.30" font-size="10.2" text-anchor="end" stroke-width="0.2">70</text>
<text class="b" x="34.40" y="318.70" font-size="10.2" text-anchor="end" stroke-width="0.2">60</text>
<text class="b" x="34.40" y="332.10" font-size="10.2" text-anchor="end" stroke-width="0.2">50</text>
<text class="b" x="34.40" y="345.50" font-size="10.2" text-anchor="end" stroke-width="0.2">40</text>
<text class="b" x="34.40" y="358.90" font-size="10.2" text-anchor="end" stroke-width="0.2">30</text>
<text class="b" x="34.40" y="372.30" font-size="10.2" text-anchor="end" stroke-width="0.2">20</text>
<text class="b" x="359.75" y="212.85" font-size="14.3" text-anchor="middle" stroke-width="0.2">JAC</text>
<g transform="translate(8.40,293.10) rotate(-90)"><text class="b" x="0.00" y="4.50" font-size="13" text-anchor="middle" stroke-width="0.2">%</text></g>
<text class="b" x="577.20" y="232.30" font-size="10" stroke-width="0.2">Right-Caudate</text>
<text class="b" x="577.20" y="244.70" font-size="10" stroke-width="0.2">Left-Lateral-Ventricle</text>
<text class="b" x="577.20" y="257.70" font-size="10" stroke-width="0.2">Right-Lateral-Ventricle</text>
<text class="r" transform="translate(56.70,467.09) scale(0.94,1)" font-size="9.7" text-anchor="middle" stroke-width="0.22">95.80</text>
<text class="r" transform="translate(78.80,470.55) scale(0.94,1)" font-size="9.7" text-anchor="middle" stroke-width="0.22">93.22</text>
<text class="r" transform="translate(100.90,466.86) scale(0.94,1)" font-size="9.7" text-anchor="middle" stroke-width="0.22">95.97</text>
<text class="b" x="78.70" y="590.80" font-size="12" text-anchor="middle" stroke-width="0.2">Proposed</text>
<text class="r" transform="translate(137.44,470.47) scale(0.94,1)" font-size="9.7" text-anchor="middle" stroke-width="0.22">93.28</text>
<text class="r" transform="translate(159.54,502.54) scale(0.94,1)" font-size="9.7" text-anchor="middle" stroke-width="0.22">69.38</text>
<text class="r" transform="translate(181.64,504.74) scale(0.94,1)" font-size="9.7" text-anchor="middle" stroke-width="0.22">67.74</text>
<text class="b" x="159.44" y="590.80" font-size="12" text-anchor="middle" stroke-width="0.2">nnFormer</text>
<text class="r" transform="translate(218.18,479.37) scale(0.94,1)" font-size="9.7" text-anchor="middle" stroke-width="0.22">86.65</text>
<text class="r" transform="translate(240.28,505.45) scale(0.94,1)" font-size="9.7" text-anchor="middle" stroke-width="0.22">67.21</text>
<text class="r" transform="translate(262.38,487.97) scale(0.94,1)" font-size="9.7" text-anchor="middle" stroke-width="0.22">80.24</text>
<text class="b" x="240.18" y="590.80" font-size="12" text-anchor="middle" stroke-width="0.2">Unet</text>
<text class="r" transform="translate(298.92,487.39) scale(0.94,1)" font-size="9.7" text-anchor="middle" stroke-width="0.22">80.67</text>
<text class="r" transform="translate(321.02,511.64) scale(0.94,1)" font-size="9.7" text-anchor="middle" stroke-width="0.22">62.60</text>
<text class="r" transform="translate(343.12,491.75) scale(0.94,1)" font-size="9.7" text-anchor="middle" stroke-width="0.22">77.42</text>
<text class="b" x="320.92" y="590.80" font-size="12" text-anchor="middle" stroke-width="0.2">Vnet</text>
<text class="r" transform="translate(379.66,486.26) scale(0.94,1)" font-size="9.7" text-anchor="middle" stroke-width="0.22">81.51</text>
<text class="r" transform="translate(401.76,501.45) scale(0.94,1)" font-size="9.7" text-anchor="middle" stroke-width="0.22">70.19</text>
<text class="r" transform="translate(423.86,563.18) scale(0.94,1)" font-size="9.7" text-anchor="middle" stroke-width="0.22">24.19</text>
<text class="b" x="401.66" y="590.80" font-size="12" text-anchor="middle" stroke-width="0.2">ResUNet</text>
<text class="r" transform="translate(460.40,496.41) scale(0.94,1)" font-size="9.7" text-anchor="middle" stroke-width="0.22">73.95</text>
<text class="r" transform="translate(482.50,480.36) scale(0.94,1)" font-size="9.7" text-anchor="middle" stroke-width="0.22">85.91</text>
<text class="r" transform="translate(504.60,532.88) scale(0.94,1)" font-size="9.7" text-anchor="middle" stroke-width="0.22">46.77</text>
<text class="b" x="482.40" y="590.80" font-size="12" text-anchor="middle" stroke-width="0.2">UNet++</text>
<text class="r" transform="translate(541.14,479.50) scale(0.94,1)" font-size="9.7" text-anchor="middle" stroke-width="0.22">86.55</text>
<text class="r" transform="translate(563.24,486.18) scale(0.94,1)" font-size="9.7" text-anchor="middle" stroke-width="0.22">81.57</text>
<text class="r" transform="translate(585.34,479.85) scale(0.94,1)" font-size="9.7" text-anchor="middle" stroke-width="0.22">86.29</text>
<text class="b" x="563.14" y="590.80" font-size="12" text-anchor="middle" stroke-width="0.2">UNETR</text>
<text class="r" transform="translate(621.88,467.09) scale(0.94,1)" font-size="9.7" text-anchor="middle" stroke-width="0.22">95.80</text>
<text class="r" transform="translate(643.98,485.10) scale(0.94,1)" font-size="9.7" text-anchor="middle" stroke-width="0.22">82.38</text>
<text class="r" transform="translate(666.08,489.04) scale(0.94,1)" font-size="9.7" text-anchor="middle" stroke-width="0.22">79.44</text>
<text class="b" x="643.88" y="590.80" font-size="12" text-anchor="middle" stroke-width="0.2">U-transformer</text>
<text class="b" x="35.40" y="429.30" font-size="10.2" text-anchor="end" stroke-width="0.2">130</text>
<text class="b" x="35.40" y="442.72" font-size="10.2" text-anchor="end" stroke-width="0.2">120</text>
<text class="b" x="35.40" y="456.14" font-size="10.2" text-anchor="end" stroke-width="0.2">110</text>
<text class="b" x="35.40" y="469.55" font-size="10.2" text-anchor="end" stroke-width="0.2">100</text>
<text class="b" x="35.40" y="482.97" font-size="10.2" text-anchor="end" stroke-width="0.2">90</text>
<text class="b" x="35.40" y="496.39" font-size="10.2" text-anchor="end" stroke-width="0.2">80</text>
<text class="b" x="35.40" y="509.81" font-size="10.2" text-anchor="end" stroke-width="0.2">70</text>
<text class="b" x="35.40" y="523.23" font-size="10.2" text-anchor="end" stroke-width="0.2">60</text>
<text class="b" x="35.40" y="536.65" font-size="10.2" text-anchor="end" stroke-width="0.2">50</text>
<text class="b" x="35.40" y="550.06" font-size="10.2" text-anchor="end" stroke-width="0.2">40</text>
<text class="b" x="35.40" y="563.48" font-size="10.2" text-anchor="end" stroke-width="0.2">30</text>
<text class="b" x="35.40" y="576.90" font-size="10.2" text-anchor="end" stroke-width="0.2">20</text>
<text class="b" x="360.00" y="417.80" font-size="14.3" text-anchor="middle" stroke-width="0.2">Recall</text>
<g transform="translate(8.55,497.50) rotate(-90)"><text class="b" x="0.00" y="4.50" font-size="13" text-anchor="middle" stroke-width="0.2">%</text></g>
<text class="b" x="579.70" y="434.20" font-size="10" stroke-width="0.2">Right-Caudate</text>
<text class="b" x="579.70" y="446.60" font-size="10" stroke-width="0.2">Left-Lateral-Ventricle</text>
<text class="b" x="579.70" y="459.60" font-size="10" stroke-width="0.2">Right-Lateral-Ventricle</text>
<text class="r" transform="translate(58.90,684.13) scale(0.94,1)" font-size="9.7" text-anchor="middle" stroke-width="0.22">94.21</text>
<text class="r" transform="translate(81.00,684.42) scale(0.94,1)" font-size="9.7" text-anchor="middle" stroke-width="0.22">93.99</text>
<text class="r" transform="translate(103.10,691.79) scale(0.94,1)" font-size="9.7" text-anchor="middle" stroke-width="0.22">88.48</text>
<text class="b" x="80.90" y="805.90" font-size="12" text-anchor="middle" stroke-width="0.2">Proposed</text>
<text class="r" transform="translate(139.64,705.56) scale(0.94,1)" font-size="9.7" text-anchor="middle" stroke-width="0.22">78.17</text>
<text class="r" transform="translate(161.74,697.87) scale(0.94,1)" font-size="9.7" text-anchor="middle" stroke-width="0.22">83.93</text>
<text class="r" transform="translate(183.84,700.51) scale(0.94,1)" font-size="9.7" text-anchor="middle" stroke-width="0.22">81.95</text>
<text class="b" x="161.64" y="805.90" font-size="12" text-anchor="middle" stroke-width="0.2">nnFormer</text>
<text class="r" transform="translate(220.38,695.33) scale(0.94,1)" font-size="9.7" text-anchor="middle" stroke-width="0.22">85.83</text>
<text class="r" transform="translate(242.48,700.29) scale(0.94,1)" font-size="9.7" text-anchor="middle" stroke-width="0.22">82.12</text>
<text class="r" transform="translate(264.58,704.49) scale(0.94,1)" font-size="9.7" text-anchor="middle" stroke-width="0.22">78.97</text>
<text class="b" x="242.38" y="805.90" font-size="12" text-anchor="middle" stroke-width="0.2">Unet</text>
<text class="r" transform="translate(301.12,686.67) scale(0.94,1)" font-size="9.7" text-anchor="middle" stroke-width="0.22">92.31</text>
<text class="r" transform="translate(323.22,701.33) scale(0.94,1)" font-size="9.7" text-anchor="middle" stroke-width="0.22">81.34</text>
<text class="r" transform="translate(345.32,719.68) scale(0.94,1)" font-size="9.7" text-anchor="middle" stroke-width="0.22">67.61</text>
<text class="b" x="323.12" y="805.90" font-size="12" text-anchor="middle" stroke-width="0.2">Vnet</text>
<text class="r" transform="translate(381.86,702.89) scale(0.94,1)" font-size="9.7" text-anchor="middle" stroke-width="0.22">80.17</text>
<text class="r" transform="translate(403.96,707.93) scale(0.94,1)" font-size="9.7" text-anchor="middle" stroke-width="0.22">76.40</text>
<text class="r" transform="translate(426.06,693.82) scale(0.94,1)" font-size="9.7" text-anchor="middle" stroke-width="0.22">86.96</text>
<text class="b" x="403.86" y="805.90" font-size="12" text-anchor="middle" stroke-width="0.2">ResUNet</text>
<text class="r" transform="translate(462.60,686.24) scale(0.94,1)" font-size="9.7" text-anchor="middle" stroke-width="0.22">92.63</text>
<text class="r" transform="translate(484.70,700.57) scale(0.94,1)" font-size="9.7" text-anchor="middle" stroke-width="0.22">81.91</text>
<text class="r" transform="translate(506.80,714.34) scale(0.94,1)" font-size="9.7" text-anchor="middle" stroke-width="0.22">71.60</text>
<text class="b" x="484.60" y="805.90" font-size="12" text-anchor="middle" stroke-width="0.2">UNet++</text>
<text class="r" transform="translate(543.34,699.91) scale(0.94,1)" font-size="9.7" text-anchor="middle" stroke-width="0.22">82.40</text>
<text class="r" transform="translate(565.44,703.61) scale(0.94,1)" font-size="9.7" text-anchor="middle" stroke-width="0.22">79.63</text>
<text class="r" transform="translate(587.54,707.15) scale(0.94,1)" font-size="9.7" text-anchor="middle" stroke-width="0.22">76.98</text>
<text class="b" x="565.34" y="805.90" font-size="12" text-anchor="middle" stroke-width="0.2">UNETR</text>
<text class="r" transform="translate(624.08,702.74) scale(0.94,1)" font-size="9.7" text-anchor="middle" stroke-width="0.22">80.28</text>
<text class="r" transform="translate(646.18,694.62) scale(0.94,1)" font-size="9.7" text-anchor="middle" stroke-width="0.22">86.36</text>
<text class="r" transform="translate(668.28,709.93) scale(0.94,1)" font-size="9.7" text-anchor="middle" stroke-width="0.22">74.90</text>
<text class="b" x="646.08" y="805.90" font-size="12" text-anchor="middle" stroke-width="0.2">U-transformer</text>
<text class="b" x="37.60" y="644.40" font-size="10.2" text-anchor="end" stroke-width="0.2">130</text>
<text class="b" x="37.60" y="657.76" font-size="10.2" text-anchor="end" stroke-width="0.2">120</text>
<text class="b" x="37.60" y="671.13" font-size="10.2" text-anchor="end" stroke-width="0.2">110</text>
<text class="b" x="37.60" y="684.49" font-size="10.2" text-anchor="end" stroke-width="0.2">100</text>
<text class="b" x="37.60" y="697.85" font-size="10.2" text-anchor="end" stroke-width="0.2">90</text>
<text class="b" x="37.60" y="711.22" font-size="10.2" text-anchor="end" stroke-width="0.2">80</text>
<text class="b" x="37.60" y="724.58" font-size="10.2" text-anchor="end" stroke-width="0.2">70</text>
<text class="b" x="37.60" y="737.95" font-size="10.2" text-anchor="end" stroke-width="0.2">60</text>
<text class="b" x="37.60" y="751.31" font-size="10.2" text-anchor="end" stroke-width="0.2">50</text>
<text class="b" x="37.60" y="764.67" font-size="10.2" text-anchor="end" stroke-width="0.2">40</text>
<text class="b" x="37.60" y="778.04" font-size="10.2" text-anchor="end" stroke-width="0.2">30</text>
<text class="b" x="37.60" y="791.40" font-size="10.2" text-anchor="end" stroke-width="0.2">20</text>
<text class="b" x="364.00" y="632.70" font-size="14.3" text-anchor="middle" stroke-width="0.2">Precision</text>
<g transform="translate(10.70,712.60) rotate(-90)"><text class="b" x="0.00" y="4.50" font-size="13" text-anchor="middle" stroke-width="0.2">%</text></g>
<text class="b" x="580.40" y="651.80" font-size="10" stroke-width="0.2">Right-Caudate</text>
<text class="b" x="580.40" y="664.20" font-size="10" stroke-width="0.2">Left-Lateral-Ventricle</text>
<text class="b" x="580.40" y="677.20" font-size="10" stroke-width="0.2">Right-Lateral-Ventricle</text>
</g>
</svg>
</body></html>
